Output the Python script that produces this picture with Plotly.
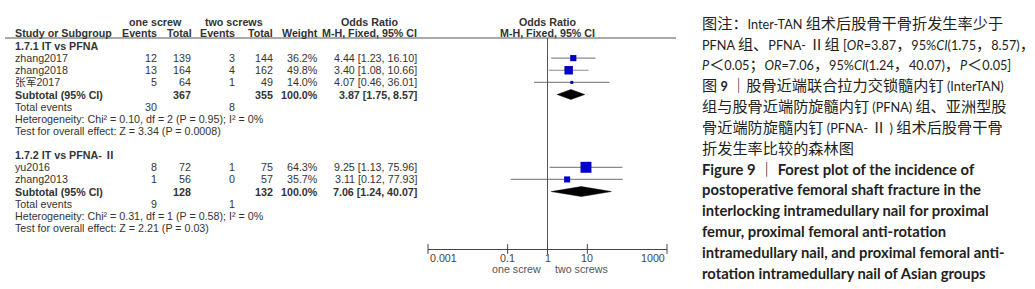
import math
import plotly.graph_objects as go

# ---------------- data ----------------
group_titles = ["1.7.1 IT vs PFNA", "1.7.2 IT vs PFNA- Ⅱ"]
study_names = [["zhang2017", "zhang2018", "张军2017"], ["yu2016", "zhang2013"]]
events_one = [[12, 13, 5], [8, 1]]
total_one = [[139, 164, 64], [72, 56]]
events_two = [[3, 4, 1], [1, 0]]
total_two = [[144, 162, 49], [75, 57]]
weights = [[36.2, 49.8, 14.0], [64.3, 35.7]]
odds = [[4.44, 3.40, 4.07], [9.25, 3.11]]
ci_low = [[1.23, 1.08, 0.46], [1.13, 0.12]]
ci_high = [[16.10, 10.66, 36.01], [75.96, 77.93]]

sub_total_one = [367, 128]
sub_total_two = [355, 132]
sub_odds = [3.87, 7.06]
sub_low = [1.75, 1.24]
sub_high = [8.57, 40.07]
tot_events_one = [30, 9]
tot_events_two = [8, 1]
heterogeneity = ["Chi² = 0.10, df = 2 (P = 0.95); I² = 0%",
                 "Chi² = 0.31, df = 1 (P = 0.58); I² = 0%"]
overall = ["Z = 3.34 (P = 0.0008)", "Z = 2.21 (P = 0.03)"]

tick_vals = [0.001, 0.1, 1, 10, 1000]
tick_text = ["0.001", "0.1", "1", "10", "1000"]
favours = ["one screw", "two screws"]

caption_cn = [
    "图注：Inter-TAN 组术后股骨干骨折发生率少于",
    "PFNA 组、PFNA- Ⅱ组 [<i>OR</i>=3.87，95%<i>CI</i>(1.75，8.57)，",
    "<i>P</i>＜0.05；<i>OR</i>=7.06，95%<i>CI</i>(1.24，40.07)，<i>P</i>＜0.05]",
    "图 <b>9</b> ｜股骨近端联合拉力交锁髓内钉 (InterTAN)",
    "组与股骨近端防旋髓内钉 (PFNA) 组、亚洲型股",
    "骨近端防旋髓内钉 (PFNA- Ⅱ ) 组术后股骨干骨",
    "折发生率比较的森林图",
]
caption_en = [
    "Figure 9 ｜ Forest plot of the incidence of",
    "postoperative femoral shaft fracture in the",
    "interlocking intramedullary nail for proximal",
    "femur, proximal femoral anti-rotation",
    "intramedullary nail, and proximal femoral anti-",
    "rotation intramedullary nail of Asian groups",
]

# ---------------- layout geometry ----------------
W, H = 1035, 289
ROW0_PX, ROW_PX = 46.0, 12.13       # pixel of first row and row pitch
AX_X0, AX_X1 = 428.0, 667.0         # pixel extent of log axis (0.001..1000)
AXIS_PX = 249.0
TXT = "#333333"
FONT = "Liberation Sans, Arial, Noto Sans CJK SC"
FS = 10.7


def px2row(p):
    return (p - ROW0_PX) / ROW_PX


def yp(p):  # pixel -> paper y
    return 1 - p / H


def xp(p):  # pixel -> paper x
    return p / W


def val2px(v):
    return AX_X0 + (math.log10(v) + 3) / 6 * (AX_X1 - AX_X0)


def is_cjk(c):
    o = ord(c)
    return o >= 0x2E80 or 0x2150 <= o <= 0x218F


def cjk_wrap(s, size):
    out, buf, i = [], "", 0

    def flush():
        nonlocal buf
        if buf:
            out.append(f'<span style="font-size:{size}px">{buf}</span>')
            buf = ""

    while i < len(s):
        c = s[i]
        if c == "<":
            flush()
            j = s.index(">", i)
            out.append(s[i:j + 1])
            i = j + 1
            continue
        if is_cjk(c):
            buf += c
        else:
            flush()
            out.append(c)
        i += 1
    flush()
    return "".join(out)


fig = go.Figure()
ann = []


def text(x_px, row, s, anchor="left", bold=False, size=FS, color=TXT):
    ann.append(dict(x=xp(x_px), xref="paper", y=row, yref="y", text=(f"<b>{s}</b>" if bold else s),
                    showarrow=False, xanchor=anchor, yanchor="middle",
                    font=dict(family=FONT, size=size, color=color)))


# column right edges (pixels)
C_NAME, C_E1, C_T1, C_E2, C_T2, C_W, C_OR = 13, 159, 193, 237, 275, 320, 419

# headers
hdr1 = px2row(22)
hdr2 = px2row(33)
text(155, hdr1, "one screw", "center", True)
text(234, hdr1, "two screws", "center", True)
text(369, hdr1, "Odds Ratio", "center", True)
text(547, hdr1, "Odds Ratio", "center", True)
text(C_NAME, hdr2, "Study or Subgroup", "left", True)
text(C_E1, hdr2, "Events", "right", True)
text(C_T1 + 1, hdr2, "Total", "right", True)
text(C_E2, hdr2, "Events", "right", True)
text(C_T2, hdr2, "Total", "right", True)
text(C_W, hdr2, "Weight", "right", True)
text(C_OR, hdr2, "M-H, Fixed, 95% CI", "right", True)
text(547, hdr2, "M-H, Fixed, 95% CI", "center", True)

row = 0
top_row = px2row(38)
for g in range(len(group_titles)):
    text(C_NAME, row, group_titles[g], "left", True)
    row += 1
    for i, name in enumerate(study_names[g]):
        text(C_NAME, row, name)
        text(C_E1, row, str(events_one[g][i]), "right")
        text(C_T1, row, str(total_one[g][i]), "right")
        text(C_E2, row, str(events_two[g][i]), "right")
        text(C_T2, row, str(total_two[g][i]), "right")
        text(C_W, row, f"{weights[g][i]:.1f}%", "right")
        text(C_OR, row, f"{odds[g][i]:.2f} [{ci_low[g][i]:.2f}, {ci_high[g][i]:.2f}]", "right")
        fig.add_trace(go.Scatter(x=[ci_low[g][i], ci_high[g][i]], y=[row, row], mode="lines",
                                 line=dict(color="#8a8a8a", width=1.2), hoverinfo="skip",
                                 showlegend=False))
        fig.add_trace(go.Scatter(x=[odds[g][i]], y=[row], mode="markers",
                                 marker=dict(symbol="square", color="#0000c8",
                                             size=max(3, weights[g][i] * 0.17), line=dict(width=0)),
                                 hoverinfo="skip", showlegend=False))
        row += 1
    text(C_NAME, row, "Subtotal (95% CI)", "left", True)
    text(C_T1, row, str(sub_total_one[g]), "right", True)
    text(C_T2, row, str(sub_total_two[g]), "right", True)
    text(C_W, row, "100.0%", "right", True)
    text(C_OR, row, f"{sub_odds[g]:.2f} [{sub_low[g]:.2f}, {sub_high[g]:.2f}]", "right", True)
    h = 0.41
    fig.add_trace(go.Scatter(x=[sub_low[g], sub_odds[g], sub_high[g], sub_odds[g], sub_low[g]],
                             y=[row, row - h, row, row + h, row], mode="lines", fill="toself",
                             fillcolor="#000000", line=dict(color="#000000", width=0.5),
                             hoverinfo="skip", showlegend=False))
    row += 1
    text(C_NAME, row, "Total events")
    text(C_E1, row, str(tot_events_one[g]), "right")
    text(C_E2, row, str(tot_events_two[g]), "right")
    row += 1
    text(C_NAME, row, "Heterogeneity: " + heterogeneity[g])
    row += 1
    text(C_NAME, row, "Test for overall effect: " + overall[g])
    row += 2

axis_row = px2row(AXIS_PX)

# null line at OR = 1
fig.add_trace(go.Scatter(x=[1, 1], y=[top_row, axis_row], mode="lines",
                         line=dict(color="#555555", width=1), hoverinfo="skip", showlegend=False))
# tick marks crossing the axis
fig.add_trace(go.Scatter(x=tick_vals, y=[axis_row] * len(tick_vals), mode="markers",
                         marker=dict(symbol="line-ns", size=7, line=dict(color="#444444", width=1)),
                         hoverinfo="skip", showlegend=False, cliponaxis=False))

# tick labels (end labels aligned inward, as in RevMan)
for k, (v, t) in enumerate(zip(tick_vals, tick_text)):
    anchor = "left" if k == 0 else ("right" if k == len(tick_vals) - 1 else "center")
    ann.append(dict(x=xp(val2px(v)), xref="paper", y=yp(258), yref="paper", text=t,
                    showarrow=False, xanchor=anchor, yanchor="middle",
                    font=dict(family=FONT, size=FS, color="#444444")))

# header rule
fig.add_shape(type="line", xref="paper", yref="paper", x0=xp(5), x1=xp(676),
              y0=yp(38), y1=yp(38), line=dict(color="#555555", width=1))

# favours labels
ann.append(dict(x=xp(val2px(1) - 5), xref="paper", y=yp(269), yref="paper", text=favours[0],
                showarrow=False, xanchor="right", yanchor="middle",
                font=dict(family=FONT, size=FS, color="#555555")))
ann.append(dict(x=xp(val2px(1) + 5), xref="paper", y=yp(269), yref="paper", text=favours[1],
                showarrow=False, xanchor="left", yanchor="middle",
                font=dict(family=FONT, size=FS, color="#555555")))

# caption
CAP_FONT = "Lato, Noto Sans CJK SC"
lines = [cjk_wrap(s, 15.2) for s in caption_cn] + [f"<b>{s}</b>" for s in caption_en]
for k, line in enumerate(lines):
    ann.append(dict(x=xp(701), xref="paper", y=yp(23 + 20.8 * k), yref="paper", text=line,
                    showarrow=False, xanchor="left", yanchor="middle", borderpad=0,
                    font=dict(family=CAP_FONT, size=12.7 if k < len(caption_cn) else 14.8,
                              color="#231f20")))

fig.update_layout(
    width=W, height=H, margin=dict(l=0, r=0, t=0, b=0),
    paper_bgcolor="white", plot_bgcolor="white",
    annotations=ann,
    xaxis=dict(type="log", range=[-3, 3], domain=[xp(AX_X0), xp(AX_X1)],
               showgrid=False, zeroline=False, showline=True, linecolor="#444444", linewidth=1,
               tickvals=tick_vals, showticklabels=False, ticks=""),
    yaxis=dict(range=[px2row(AXIS_PX), px2row(0)], domain=[yp(AXIS_PX), 1], visible=False,
               showgrid=False, zeroline=False),
)

fig.write_html("out.html", config={"displayModeBar": False},
               post_script="document.body.style.margin='0';document.body.style.overflow='hidden';")
